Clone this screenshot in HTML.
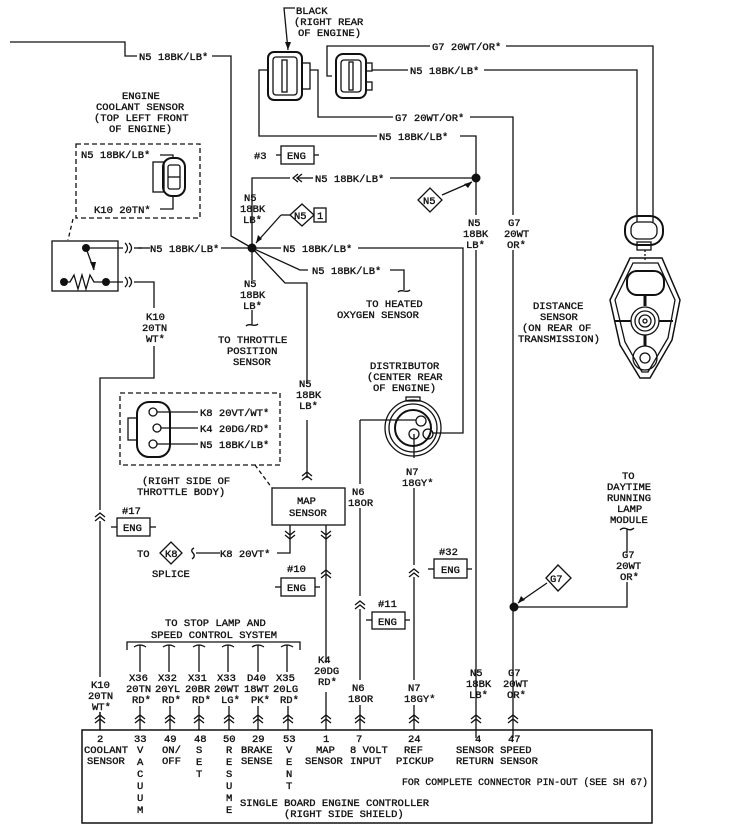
<!DOCTYPE html>
<html><head><meta charset="utf-8"><style>
html,body{margin:0;padding:0;background:#fff}
svg{display:block}
text{font-family:"Liberation Mono",monospace;font-size:10.5px;fill:#111;stroke:#111;stroke-width:0.35}
</style></head><body>
<svg width="734" height="832" viewBox="0 0 734 832" xmlns="http://www.w3.org/2000/svg">
<g fill="none" stroke="#111" stroke-width="1.3">
<polyline points="10,42 125,42 125,56 137,56"/>
<polyline points="212,56 231,56 231,236 252,248"/>
<rect x="268" y="52" width="34" height="48" rx="6" stroke-width="2"/>
<rect x="273" y="57" width="24" height="38" rx="3"/>
<rect x="282" y="60" width="5" height="32"/>
<rect x="302" y="63" width="8" height="26"/>
<polyline points="295,8 284,8 288,50"/>
<rect x="336" y="54" width="30" height="44" rx="7" stroke-width="2"/>
<rect x="341" y="60" width="20" height="32" rx="3"/>
<rect x="349" y="62" width="4" height="28"/>
<rect x="366" y="63" width="6" height="8"/><rect x="366" y="82" width="6" height="8"/>
<polyline points="332,76 327,76 327,46 430,46"/>
<polyline points="506,46 653,46 653,222"/>
<polyline points="372,70 408,70"/>
<polyline points="484,70 637,70 637,222"/>
<polyline points="268,70 259,70 259,136 377,136"/>
<polyline points="460,136 476,136 476,215"/>
<polyline points="310,70 318,70 318,117 393,117"/>
<polyline points="470,117 513,117 513,215"/>
<polyline points="476,250 476,738"/>
<polyline points="513,250 513,738"/>
<rect x="281" y="146" width="33" height="18"/>
<line x1="276" y1="155" x2="281" y2="155"/><line x1="314" y1="155" x2="319" y2="155"/>
<polyline points="252,248 252,178 290,178"/>
<path d="M298,174 L293,178 L298,182 M302,174 L297,178 L302,182"/>
<line x1="297" y1="178" x2="313" y2="178"/>
<line x1="390" y1="178" x2="476" y2="178"/>
<line x1="442" y1="195" x2="472" y2="182"/>
<polygon points="418,200 430,188 442,200 430,212"/>
<polygon points="290,215 302,204 314,215 302,226"/>
<rect x="314" y="208" width="12" height="14"/>
<line x1="290" y1="215" x2="281" y2="215"/><line x1="281" y1="215" x2="256" y2="243"/>
<line x1="138" y1="248" x2="150" y2="248"/>
<line x1="221" y1="248" x2="252" y2="248"/>
<line x1="252" y1="248" x2="281" y2="248"/>
<polyline points="358,248 463,248 463,433 432,433"/>
<polyline points="252,248 300,270 308,270"/>
<polyline points="390,270 404,270 404,290"/>
<path d="M398,292 Q400,290 404,291 Q408,292 410,290"/>
<polyline points="252,248 285,283 307,283 307,384"/>
<polyline points="307,420 307,478"/>
<line x1="252" y1="248" x2="252" y2="280"/>
<line x1="252" y1="310" x2="252" y2="325"/>
<path d="M246,326 Q248,324 252,325 Q256,326 258,324"/>
<rect x="76" y="144" width="124" height="74" stroke-dasharray="5,3"/>
<rect x="153" y="162" width="11" height="30"/>
<rect x="163" y="158" width="22" height="38" rx="9" stroke-width="2"/>
<rect x="168" y="165" width="12" height="24" rx="2"/>
<line x1="168" y1="177" x2="180" y2="177"/>
<polyline points="160,155 173,155 173,158"/><polyline points="160,209 173,209 173,196"/>
<line x1="73" y1="219" x2="68" y2="240" stroke-dasharray="4,3"/>
<rect x="52" y="241" width="66" height="50"/>
<polyline points="86,248 123,248"/>
<path d="M125,243 Q130,248 125,253 M129,243 Q134,248 129,253"/>
<line x1="134" y1="248" x2="142" y2="248"/>
<polyline points="86,248 94,270"/>
<polyline points="64,282 70,282 74,275 78,289 82,275 86,289 90,275 94,282 106,282"/>
<polyline points="106,282 123,282"/>
<path d="M125,277 Q130,282 125,287 M129,277 Q134,282 129,287"/>
<polyline points="134,282 154,282 154,308"/>
<polyline points="154,346 154,378 100,378 100,510"/>
<path d="M95,517 L100,513 L105,517 M95,521 L100,517 L105,521"/>
<line x1="100" y1="521" x2="100" y2="677"/>
<line x1="100" y1="712" x2="100" y2="730"/>
<rect x="117" y="518" width="33" height="18"/>
<line x1="111" y1="527" x2="117" y2="527"/><line x1="150" y1="527" x2="156" y2="527"/>
<rect x="120" y="393" width="160" height="72" stroke-dasharray="5,3"/>
<rect x="137" y="402" width="33" height="55" rx="12" stroke-width="2"/>
<rect x="128" y="418" width="9" height="22"/>
<circle cx="153" cy="412" r="4"/><circle cx="157" cy="428" r="4"/><circle cx="153" cy="444" r="4"/>
<line x1="157" y1="412" x2="198" y2="412"/><line x1="161" y1="428" x2="198" y2="428"/><line x1="157" y1="444" x2="198" y2="444"/>
<line x1="255" y1="465" x2="272" y2="488" stroke-dasharray="4,3"/>
<rect x="272" y="488" width="73" height="37"/>
<path d="M302,476 L307,472 L312,476 M302,480 L307,476 L312,480"/>
<polyline points="290,525 290,553 277,553"/>
<path d="M285,531 L290,535 L295,531 M285,535 L290,539 L295,535"/>
<path d="M194,548 Q190,550 193,553 Q196,556 192,559"/>
<line x1="196" y1="553" x2="220" y2="553"/>
<polygon points="160,553 171,542 182,553 171,564"/>
<line x1="326" y1="525" x2="326" y2="663"/>
<path d="M321,531 L326,535 L331,531 M321,535 L326,539 L331,535"/>
<path d="M321,574 L326,570 L331,574 M321,578 L326,574 L331,578"/>
<line x1="326" y1="692" x2="326" y2="718"/>
<rect x="281" y="578" width="34" height="18"/>
<line x1="275" y1="587" x2="281" y2="587"/><line x1="315" y1="587" x2="320" y2="587"/>
<circle cx="413" cy="428" r="28"/><circle cx="413" cy="428" r="24"/><circle cx="413" cy="428" r="18" stroke-width="2"/>
<rect x="406" y="397" width="14" height="4"/>
<circle cx="421" cy="421" r="5"/><circle cx="414" cy="434" r="5"/><circle cx="428" cy="434" r="5"/>
<polyline points="360,420 416,420"/>
<polyline points="360,420 360,484"/>
<line x1="360" y1="508" x2="360" y2="596"/>
<path d="M355,605 L360,601 L365,605 M355,609 L360,605 L365,609"/>
<line x1="360" y1="609" x2="360" y2="680"/>
<line x1="360" y1="705" x2="360" y2="730"/>
<line x1="414" y1="434" x2="414" y2="458"/>
<line x1="414" y1="488" x2="414" y2="565"/>
<path d="M409,573 L414,569 L419,573 M409,577 L414,573 L419,577"/>
<line x1="414" y1="577" x2="414" y2="680"/>
<line x1="414" y1="705" x2="414" y2="730"/>
<rect x="372" y="612" width="33" height="17"/>
<line x1="366" y1="620" x2="372" y2="620"/><line x1="405" y1="620" x2="410" y2="620"/>
<rect x="434" y="559" width="33" height="19"/>
<line x1="428" y1="569" x2="434" y2="569"/><line x1="467" y1="569" x2="472" y2="569"/>
<polyline points="514,607 627,607 627,582"/>
<line x1="627" y1="529" x2="627" y2="552"/>
<path d="M620,530 Q623,527 627,529 Q631,531 634,528"/>
<polygon points="546,578 558,565 571,578 558,591"/>
<line x1="547" y1="583" x2="518" y2="603"/>
<rect x="625" y="216" width="38" height="29" rx="13" stroke-width="2"/>
<rect x="631" y="222" width="26" height="17" rx="7"/>
<rect x="637" y="242" width="14" height="8"/>
<line x1="645" y1="250" x2="645" y2="262" stroke-dasharray="2,2"/>
<path d="M630,258 L662,258 L680,300 L672,340 L650,378 L640,378 L620,345 L610,300 Z" stroke-width="1.5"/>
<path d="M633,263 L658,263 L675,300 L668,338 L648,372 L642,372 L625,342 L615,300 Z"/>
<rect x="627" y="271" width="37" height="24" rx="10" stroke-width="2"/>
<line x1="645" y1="295" x2="645" y2="306" stroke-width="3"/>
<circle cx="645" cy="321" r="14"/><circle cx="645" cy="321" r="10"/><circle cx="645" cy="321" r="6"/><circle cx="645" cy="321" r="2"/>
<line x1="615" y1="321" x2="631" y2="321" stroke-width="2"/><line x1="659" y1="321" x2="673" y2="321" stroke-width="2"/>
<line x1="645" y1="335" x2="645" y2="346" stroke-width="3"/>
<circle cx="645" cy="358" r="12"/><circle cx="645" cy="358" r="5"/>
<polyline points="127,650 127,642 300,642 300,650"/>
<g>
<path d="M134,647 Q140,643 146,647 M140,645 L140,672"/>
<path d="M163,647 Q169,643 175,647 M169,645 L169,672"/>
<path d="M193,647 Q199,643 205,647 M199,645 L199,672"/>
<path d="M222,647 Q228,643 234,647 M228,645 L228,672"/>
<path d="M252,647 Q258,643 264,647 M258,645 L258,672"/>
<path d="M281,647 Q287,643 293,647 M287,645 L287,672"/>
</g>
<g>
<path d="M100,712 v18 M95,719 L100,715 L105,719 M95,723 L100,719 L105,723"/>
<path d="M140,706 v24 M135,719 L140,715 L145,719 M135,723 L140,719 L145,723"/>
<path d="M170,706 v24 M165,719 L170,715 L175,719 M165,723 L170,719 L175,723"/>
<path d="M199,706 v24 M194,719 L199,715 L204,719 M194,723 L199,719 L204,723"/>
<path d="M229,706 v24 M224,719 L229,715 L234,719 M224,723 L229,719 L234,723"/>
<path d="M258,706 v24 M253,719 L258,715 L263,719 M253,723 L258,719 L263,723"/>
<path d="M288,706 v24 M283,719 L288,715 L293,719 M283,723 L288,719 L293,723"/>
<path d="M321,719 L326,715 L331,719 M321,723 L326,719 L331,723 M326,718 v12"/>
<path d="M355,719 L360,715 L365,719 M355,723 L360,719 L365,723"/>
<path d="M409,719 L414,715 L419,719 M409,723 L414,719 L419,723"/>
<path d="M471,719 L476,715 L481,719 M471,723 L476,719 L481,723"/>
<path d="M508,719 L513,715 L518,719 M508,723 L513,719 L518,723"/>
</g>
<rect x="82" y="730" width="570" height="93" stroke-width="1.5"/>
</g>
<g fill="#111">
<circle cx="252" cy="248" r="4.5"/><circle cx="476" cy="178" r="4.5"/><circle cx="514" cy="607" r="4.5"/>
<circle cx="86" cy="248" r="4"/><circle cx="64" cy="282" r="4"/><circle cx="106" cy="282" r="4"/>
<polygon points="256,243 258,235 262,239"/><polygon points="472,182 464,184 468,188"/><polygon points="518,603 521,596 525,600"/>
<polygon points="288,50 285,42 291,42"/><polygon points="94,270 90,262 96,262"/>
</g>
<text x="296" y="14">BLACK</text>
<text x="294" y="25">(RIGHT REAR</text>
<text x="298" y="36">OF ENGINE)</text>
<text x="139" y="60">N5 18BK/LB*</text>
<text x="432" y="50">G7 20WT/OR*</text>
<text x="410" y="74">N5 18BK/LB*</text>
<text x="395" y="121">G7 20WT/OR*</text>
<text x="379" y="140">N5 18BK/LB*</text>
<text x="315" y="182">N5 18BK/LB*</text>
<text x="254" y="159">#3</text>
<text x="287" y="159">ENG</text>
<text x="423" y="204" font-size="9">N5</text>
<text x="294" y="219" font-size="9">N5</text>
<text x="317" y="219" font-size="9">1</text>
<text x="122" y="99">ENGINE</text>
<text x="96" y="110">COOLANT SENSOR</text>
<text x="94" y="121">(TOP LEFT FRONT</text>
<text x="109" y="132">OF ENGINE)</text>
<text x="81" y="158">N5 18BK/LB*</text>
<text x="94" y="213">K10 20TN*</text>
<text x="150" y="252">N5 18BK/LB*</text>
<text x="283" y="252">N5 18BK/LB*</text>
<text x="312" y="274">N5 18BK/LB*</text>
<text x="244" y="201">N5</text><text x="240" y="212">18BK</text><text x="243" y="223">LB*</text>
<text x="244" y="287">N5</text><text x="240" y="298">18BK</text><text x="243" y="309">LB*</text>
<text x="218" y="343">TO THROTTLE</text>
<text x="227" y="354">POSITION</text>
<text x="233" y="365">SENSOR</text>
<text x="366" y="307">TO HEATED</text>
<text x="337" y="318">OXYGEN SENSOR</text>
<text x="468" y="226">N5</text><text x="463" y="237">18BK</text><text x="466" y="248">LB*</text>
<text x="508" y="226">G7</text><text x="504" y="237">20WT</text><text x="507" y="248">OR*</text>
<text x="533" y="309">DISTANCE</text>
<text x="540" y="320">SENSOR</text>
<text x="522" y="331">(ON REAR OF</text>
<text x="518" y="342">TRANSMISSION)</text>
<text x="146" y="320">K10</text><text x="142" y="331">20TN</text><text x="146" y="342">WT*</text>
<text x="299" y="387">N5</text><text x="296" y="398">18BK</text><text x="299" y="409">LB*</text>
<text x="370" y="369">DISTRIBUTOR</text>
<text x="367" y="380">(CENTER REAR</text>
<text x="373" y="391">OF ENGINE)</text>
<text x="200" y="416">K8 20VT/WT*</text>
<text x="200" y="432">K4 20DG/RD*</text>
<text x="200" y="448">N5 18BK/LB*</text>
<text x="142" y="484">(RIGHT SIDE OF</text>
<text x="137" y="495">THROTTLE BODY)</text>
<text x="297" y="504">MAP</text>
<text x="289" y="516">SENSOR</text>
<text x="352" y="495">N6</text><text x="348" y="506">18OR</text>
<text x="406" y="475">N7</text><text x="402" y="486">18GY*</text>
<text x="122" y="514">#17</text>
<text x="123" y="531">ENG</text>
<text x="137" y="557">TO</text>
<text x="165" y="557" font-size="9">K8</text>
<text x="152" y="577">SPLICE</text>
<text x="220" y="557">K8 20VT*</text>
<text x="287" y="572">#10</text>
<text x="287" y="591">ENG</text>
<text x="439" y="555">#32</text>
<text x="441" y="573">ENG</text>
<text x="378" y="607">#11</text>
<text x="378" y="625">ENG</text>
<text x="550" y="582" font-size="9">G7</text>
<text x="622" y="479">TO</text>
<text x="607" y="490">DAYTIME</text>
<text x="607" y="501">RUNNING</text>
<text x="617" y="512">LAMP</text>
<text x="610" y="523">MODULE</text>
<text x="622" y="558">G7</text><text x="616" y="569">20WT</text><text x="620" y="580">OR*</text>
<text x="165" y="626">TO STOP LAMP AND</text>
<text x="151" y="638">SPEED CONTROL SYSTEM</text>
<text x="129" y="681">X36</text><text x="158" y="681">X32</text><text x="188" y="681">X31</text><text x="217" y="681">X33</text><text x="247" y="681">D40</text><text x="276" y="681">X35</text>
<text x="126" y="692">20TN</text><text x="155" y="692">20YL</text><text x="185" y="692">20BR</text><text x="214" y="692">20WT</text><text x="244" y="692">18WT</text><text x="273" y="692">20LG</text>
<text x="132" y="703">RD*</text><text x="162" y="703">RD*</text><text x="192" y="703">RD*</text><text x="221" y="703">LG*</text><text x="251" y="703">PK*</text><text x="280" y="703">RD*</text>
<text x="91" y="688">K10</text><text x="88" y="699">20TN</text><text x="92" y="710">WT*</text>
<text x="318" y="663">K4</text><text x="314" y="674">20DG</text><text x="318" y="685">RD*</text>
<text x="352" y="691">N6</text><text x="348" y="702">18OR</text>
<text x="408" y="691">N7</text><text x="404" y="702">18GY*</text>
<text x="470" y="676">N5</text><text x="466" y="687">18BK</text><text x="469" y="698">LB*</text>
<text x="508" y="676">G7</text><text x="503" y="687">20WT</text><text x="507" y="698">OR*</text>
<text x="97" y="742">2</text>
<text x="84" y="753">COOLANT</text>
<text x="87" y="764">SENSOR</text>
<text x="134" y="742">33</text><text x="164" y="742">49</text><text x="194" y="742">48</text><text x="223" y="742">50</text><text x="252" y="742">29</text><text x="283" y="742">53</text>
<text x="137" y="753">V</text><text x="137" y="765">A</text><text x="137" y="777">C</text><text x="137" y="789">U</text><text x="137" y="801">U</text><text x="137" y="813">M</text>
<text x="162" y="753">ON/</text><text x="162" y="764">OFF</text>
<text x="196" y="753">S</text><text x="196" y="765">E</text><text x="196" y="777">T</text>
<text x="226" y="753">R</text><text x="226" y="765">E</text><text x="226" y="777">S</text><text x="226" y="789">U</text><text x="226" y="801">M</text><text x="226" y="813">E</text>
<text x="241" y="753">BRAKE</text><text x="241" y="764">SENSE</text>
<text x="286" y="753">V</text><text x="286" y="765">E</text><text x="286" y="777">N</text><text x="286" y="789">T</text>
<text x="323" y="742">1</text><text x="356" y="742">7</text><text x="408" y="742">24</text><text x="475" y="742">4</text><text x="508" y="742">47</text>
<text x="316" y="753">MAP</text><text x="305" y="764">SENSOR</text>
<text x="350" y="753">8 VOLT</text><text x="350" y="764">INPUT</text>
<text x="404" y="753">REF</text><text x="396" y="764">PICKUP</text>
<text x="456" y="753">SENSOR SPEED</text><text x="456" y="764">RETURN SENSOR</text>
<text x="402" y="785" font-family="Liberation Sans" font-size="10" textLength="246" lengthAdjust="spacingAndGlyphs">FOR COMPLETE CONNECTOR PIN-OUT (SEE SH 67)</text>
<text x="240" y="806" font-family="Liberation Sans" font-size="10.5">SINGLE BOARD ENGINE CONTROLLER</text>
<text x="284" y="817" font-family="Liberation Sans" font-size="10.5">(RIGHT SIDE SHIELD)</text>
</svg>
</body></html>
